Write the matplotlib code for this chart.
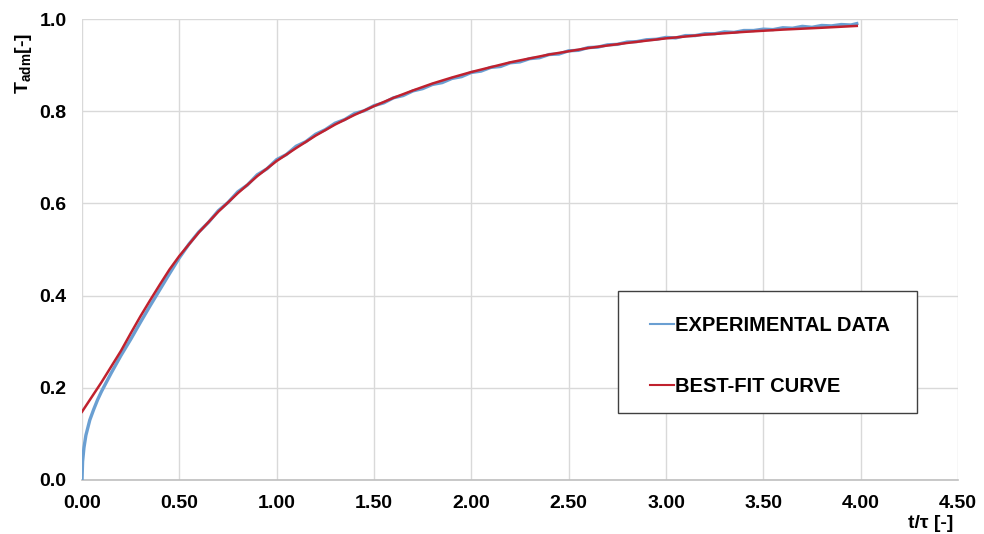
import matplotlib
matplotlib.use("Agg")
import matplotlib.pyplot as plt
from matplotlib.patches import Rectangle

plt.rcParams['font.family'] = ['Liberation Sans', 'DejaVu Sans']
plt.rcParams['font.weight'] = 'bold'
plt.rcParams['mathtext.fontset'] = 'custom'
plt.rcParams['mathtext.rm'] = 'Liberation Sans'
plt.rcParams['mathtext.bf'] = 'Liberation Sans:bold'

exp_t = [0.0, 0.003, 0.01, 0.02, 0.04, 0.06, 0.08, 0.10, 0.125, 0.15, 0.20, 0.25, 0.30, 0.35,
         0.40, 0.45, 0.50, 0.55, 0.60, 0.65, 0.70, 0.75, 0.80, 0.85, 0.90, 0.95,
         1.00, 1.05, 1.10, 1.15, 1.20, 1.25, 1.30, 1.35, 1.40, 1.45,
         1.50, 1.55, 1.60, 1.65, 1.70, 1.75, 1.80, 1.85, 1.90, 1.95,
         2.00, 2.05, 2.10, 2.15, 2.20, 2.25, 2.30, 2.35, 2.40, 2.45,
         2.50, 2.55, 2.60, 2.65, 2.70, 2.75, 2.80, 2.85, 2.90, 2.95,
         3.00, 3.05, 3.10, 3.15, 3.20, 3.25, 3.30, 3.35, 3.40, 3.45,
         3.50, 3.55, 3.60, 3.65, 3.70, 3.75, 3.80, 3.85, 3.90, 3.95, 3.98]
exp_T = [0.0, 0.04, 0.07, 0.097, 0.13, 0.153, 0.174, 0.192, 0.212, 0.232, 0.27, 0.305, 0.342, 0.378,
         0.413, 0.448, 0.482, 0.512, 0.538, 0.559, 0.584, 0.602, 0.625, 0.640, 0.662, 0.675,
         0.695, 0.706, 0.724, 0.734, 0.750, 0.760, 0.774, 0.782, 0.795, 0.801,
         0.812, 0.818, 0.829, 0.834, 0.844, 0.849, 0.858, 0.862, 0.871, 0.875,
         0.884, 0.887, 0.895, 0.897, 0.905, 0.907, 0.914, 0.916, 0.923, 0.924,
         0.931, 0.932, 0.938, 0.939, 0.944, 0.945, 0.950, 0.951, 0.955, 0.956,
         0.960, 0.959, 0.964, 0.964, 0.968, 0.968, 0.972, 0.971, 0.975, 0.975,
         0.978, 0.977, 0.981, 0.980, 0.984, 0.982, 0.986, 0.985, 0.988, 0.987, 0.990]

# Best-fit curve
fit_t = [0.0, 0.05, 0.10, 0.15, 0.20, 0.25, 0.30, 0.35, 0.40, 0.45, 0.50, 0.60, 0.70, 0.80, 0.90,
         1.00, 1.10, 1.20, 1.30, 1.40, 1.50, 1.60, 1.70, 1.80, 1.90, 2.00, 2.20, 2.40,
         2.60, 2.80, 3.00, 3.20, 3.40, 3.60, 3.80, 3.98]
fit_T = [0.148, 0.18, 0.212, 0.246, 0.28, 0.318, 0.355, 0.39, 0.424, 0.457, 0.486, 0.537, 0.582,
         0.622, 0.659, 0.692, 0.72, 0.747, 0.771, 0.792, 0.811, 0.829, 0.845, 0.86, 0.873,
         0.885, 0.906, 0.923, 0.937, 0.948, 0.958, 0.966, 0.972, 0.977, 0.981, 0.985]

x_ticks = [0.0, 0.5, 1.0, 1.5, 2.0, 2.5, 3.0, 3.5, 4.0, 4.5]
x_labels = ['0.00', '0.50', '1.00', '1.50', '2.00', '2.50', '3.00', '3.50', '4.00', '4.50']
y_ticks = [0.0, 0.2, 0.4, 0.6, 0.8, 1.0]
y_labels = ['0.0', '0.2', '0.4', '0.6', '0.8', '1.0']

fig = plt.figure(figsize=(9.84, 5.34), dpi=100)
ax = fig.add_axes([82/984, 54/534, 876/984, 461/534])

ax.plot(exp_t, exp_T, color='#6a9fd2', lw=2.4, label='EXPERIMENTAL DATA', zorder=3)
ax.plot(fit_t, fit_T, color='#c0212e', lw=1.8, label='BEST-FIT CURVE', zorder=4)

ax.set_xlim(0, 4.5)
ax.set_ylim(0, 1.0)
ax.set_xticks(x_ticks)
ax.set_xticklabels(x_labels)
ax.set_yticks(y_ticks)
ax.set_yticklabels(y_labels)
ax.tick_params(length=0, labelsize=14, pad=11)
for lab in ax.get_xticklabels() + ax.get_yticklabels():
    lab.set_fontweight('bold')
ax.grid(True, color='#d9d9d9', lw=1)
ax.set_axisbelow(True)
for s in ['top', 'right', 'left']:
    ax.spines[s].set_visible(False)
ax.spines['bottom'].set_color('#bfbfbf')
ax.spines['bottom'].set_linewidth(1.2)

fig.text(23/984, 1 - 63/534, r'$\mathbf{T_{adm}}$[-]', rotation=90, fontsize=14,
         fontweight='bold', ha='center', va='center')
fig.text(931/984, 1 - 523/534, 't/τ [-]', fontsize=14, fontweight='bold',
         ha='center', va='center')

rect = Rectangle((0.612, 0.145), 0.341, 0.265, transform=ax.transAxes,
                 facecolor='white', edgecolor='#404040', lw=1.0, zorder=5)
ax.add_patch(rect)
leg = ax.legend(loc='upper left', bbox_to_anchor=(0.648, 0.355), frameon=False,
                fontsize=14.5, handlelength=1.2, handletextpad=0.05, labelspacing=2.05,
                borderpad=0, borderaxespad=0)
leg.set_zorder(6)
for t in leg.get_texts():
    t.set_fontweight('bold')
for h in leg.get_lines():
    h.set_linewidth(1.5)

fig.savefig('out.png', dpi=100)
